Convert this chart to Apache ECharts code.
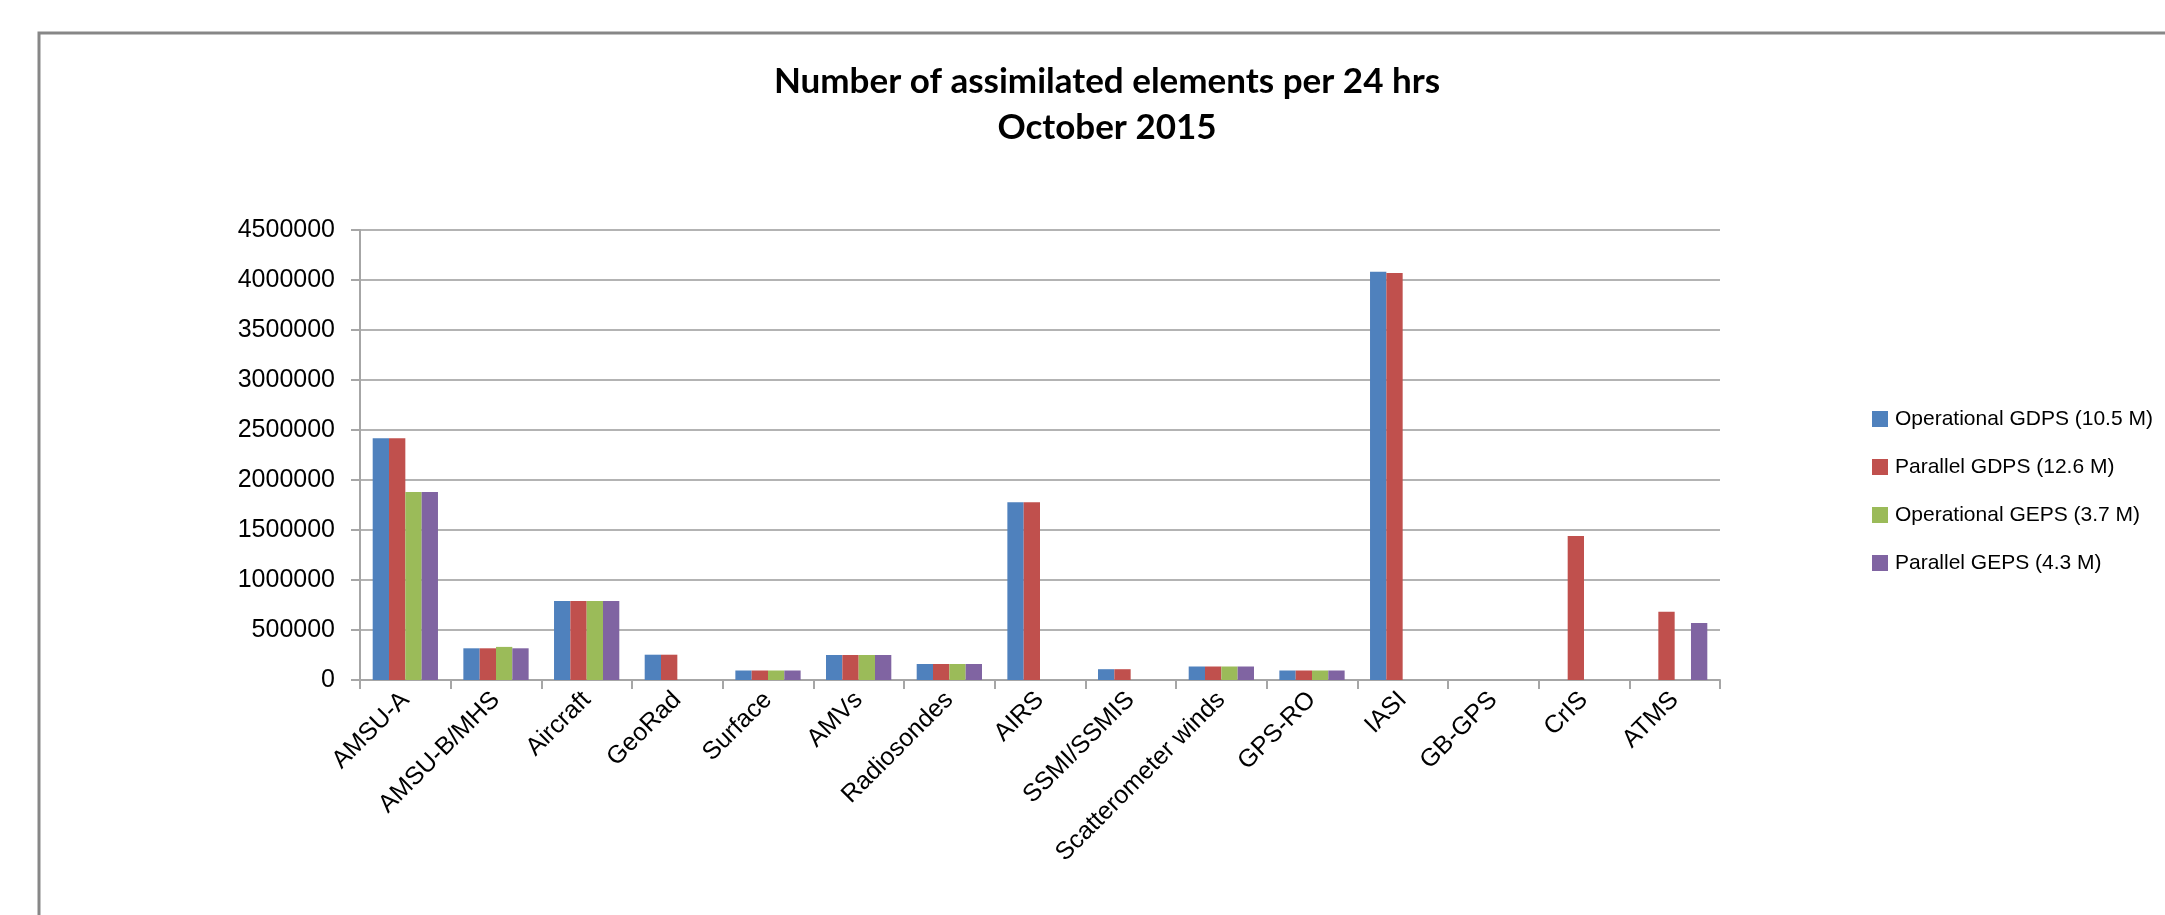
<!DOCTYPE html>
<html>
<head>
<meta charset="utf-8">
<script src="https://cdn.jsdelivr.net/npm/echarts@6/dist/echarts.min.js"></script>
<style>
html,body{margin:0;padding:0;background:#fff;}
#chart{width:2165px;height:915px;}
</style>
</head>
<body>
<div id="chart"></div>
<script>
const categories = ['AMSU-A','AMSU-B/MHS','Aircraft','GeoRad','Surface','AMVs','Radiosondes','AIRS','SSMI/SSMIS','Scatterometer winds','GPS-RO','IASI','GB-GPS','CrIS','ATMS'];
const seriesNames = ['Operational GDPS (10.5 M)','Parallel GDPS (12.6 M)','Operational GEPS (3.7 M)','Parallel GEPS (4.3 M)'];
const operationalGDPS = [2417000, 317000, 790000, 253000, 95000, 250000, 160000, 1777000, 108000, 135000, 95000, 4083000, 0, 0, 0];
const parallelGDPS    = [2417000, 317000, 790000, 253000, 95000, 250000, 160000, 1777000, 108000, 135000, 95000, 4070000, 0, 1440000, 683000];
const operationalGEPS = [1880000, 331000, 790000, 0, 95000, 250000, 160000, 0, 0, 135000, 95000, 0, 0, 0, 0];
const parallelGEPS    = [1880000, 317000, 790000, 0, 95000, 250000, 160000, 0, 0, 135000, 95000, 0, 0, 0, 570000];
const yMin = 0, yMax = 4500000, yStep = 500000;
const titleLines = ['Number of assimilated elements per 24 hrs', 'October 2015'];
const colors = ['#4F81BD', '#C0504D', '#9BBB59', '#8064A2'];

const chart = echarts.init(document.getElementById('chart'), null, {renderer: 'canvas'});
const font = 'Liberation Sans';
const values = [operationalGDPS, parallelGDPS, operationalGEPS, parallelGEPS];

chart.setOption({
  animation: false,
  color: colors,
  graphic: [{
    type: 'rect', silent: true,
    shape: {x: 39, y: 33, width: 2300, height: 1000},
    style: {fill: 'none', stroke: '#878787', lineWidth: 3}
  }],
  title: {
    text: titleLines.join('\n'),
    left: 1102, top: 54, textAlign: 'center',
    textStyle: {fontFamily: 'Lato', fontWeight: 'bold', fontSize: 35, lineHeight: 46, color: '#000'}
  },
  legend: {
    orient: 'vertical', left: 1867, top: 402,
    itemWidth: 16, itemHeight: 16, itemGap: 24,
    icon: 'rect',
    textStyle: {fontFamily: font, fontSize: 21, color: '#000', lineHeight: 24, padding: [0,0,0,2]},
    data: seriesNames
  },
  grid: {left: 360, right: 445, top: 230, bottom: 235, containLabel: false},
  xAxis: {
    type: 'category', data: categories,
    axisLine: {lineStyle: {color: '#a6a6a6', width: 2}},
    axisTick: {show: true, length: 9, lineStyle: {color: '#a6a6a6', width: 2}},
    axisLabel: {rotate: 45, margin: 16, fontFamily: font, fontSize: 25, color: '#000', interval: 0}
  },
  yAxis: {
    type: 'value', min: yMin, max: yMax, interval: yStep,
    axisLine: {show: true, lineStyle: {color: '#a6a6a6', width: 2}},
    axisTick: {show: true, length: 9, lineStyle: {color: '#a6a6a6', width: 2}},
    splitLine: {lineStyle: {color: '#b3b3b3', width: 2}},
    axisLabel: {margin: 25, fontFamily: font, fontSize: 25, color: '#000', formatter: v => String(v)}
  },
  series: seriesNames.map((n, i) => ({
    name: n, type: 'bar', data: values[i],
    barGap: '0%', barCategoryGap: '28%',
    itemStyle: {color: colors[i]}
  }))
});
</script>
</body>
</html>
